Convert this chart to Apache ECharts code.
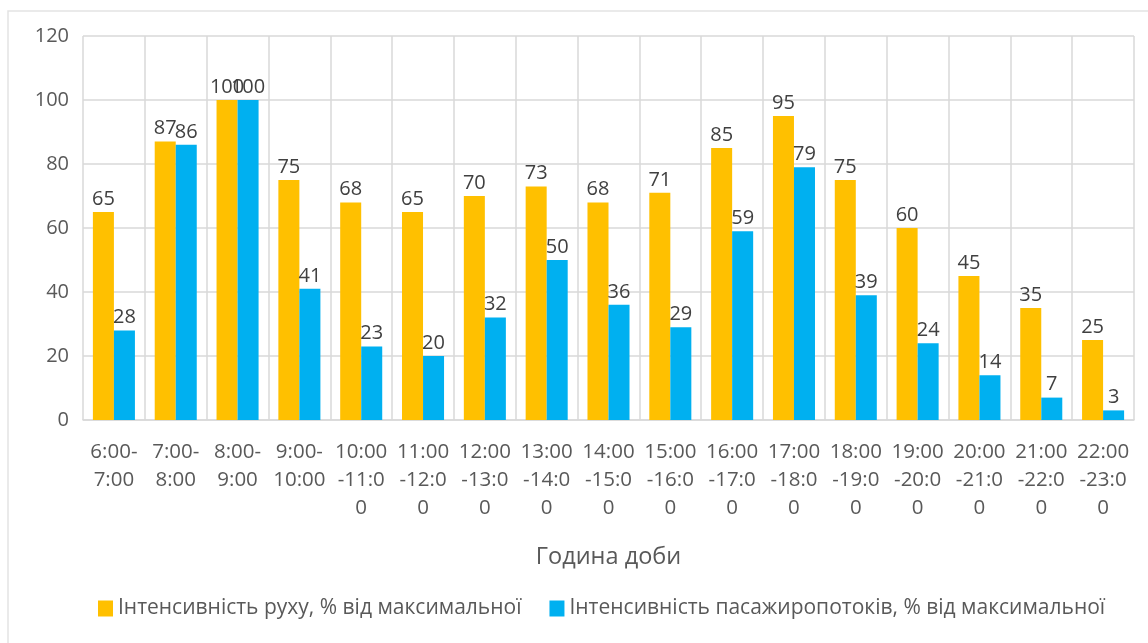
<!DOCTYPE html>
<html>
<head>
<meta charset="utf-8">
<script src="https://cdn.jsdelivr.net/npm/echarts@6/dist/echarts.min.js"></script>
<style>
  html, body { margin: 0; padding: 0; background: #fff; }
  #chart { width: 1148px; height: 643px; }
</style>
</head>
<body>
<div id="chart"></div>
<script>
// Hour-of-day intervals (line breaks as shown under the axis)
const categories = [
  '6:00-\n7:00', '7:00-\n8:00', '8:00-\n9:00', '9:00-\n10:00',
  '10:00\n-11:0\n0', '11:00\n-12:0\n0', '12:00\n-13:0\n0', '13:00\n-14:0\n0',
  '14:00\n-15:0\n0', '15:00\n-16:0\n0', '16:00\n-17:0\n0', '17:00\n-18:0\n0',
  '18:00\n-19:0\n0', '19:00\n-20:0\n0', '20:00\n-21:0\n0', '21:00\n-22:0\n0',
  '22:00\n-23:0\n0'
];
const seriesNames = [
  'Інтенсивність руху, % від максимальної',
  'Інтенсивність пасажиропотоків, % від максимальної'
];
const trafficIntensity = [65, 87, 100, 75, 68, 65, 70, 73, 68, 71, 85, 95, 75, 60, 45, 35, 25];
const passengerFlow = [28, 86, 100, 41, 23, 20, 32, 50, 36, 29, 59, 79, 39, 24, 14, 7, 3];
const yTicks = { min: 0, max: 120, step: 20 };
const axisTitle = 'Година доби';

const FONT = '"Open Sans", "Noto Sans", sans-serif';
const gridColor = '#D9D9D9';
const textColor = '#595959';

const chart = echarts.init(document.getElementById('chart'), null, { renderer: 'canvas' });

const labelStyle = {
  show: true,
  position: 'top',
  distance: 3,
  color: '#404040',
  fontFamily: FONT,
  fontSize: 20
};

chart.setOption({
  animation: false,
  backgroundColor: '#ffffff',
  graphic: [{
    type: 'rect',
    shape: { x: 8, y: 11, width: 1200, height: 700 },
    style: { fill: 'none', stroke: '#E3E3E3', lineWidth: 1.5 },
    silent: true
  }],
  grid: { left: 83, right: 14, top: 36, bottom: 223 },
  legend: {
    data: seriesNames,
    bottom: 19,
    left: 93,
    icon: 'rect',
    itemWidth: 15,
    itemHeight: 16,
    itemGap: 28,
    textStyle: { color: textColor, fontFamily: FONT, fontSize: 21 }
  },
  xAxis: {
    type: 'category',
    data: categories,
    name: axisTitle,
    nameLocation: 'middle',
    nameGap: 125,
    nameTextStyle: { color: textColor, fontFamily: FONT, fontSize: 23.5 },
    axisLine: { lineStyle: { color: gridColor, width: 1.5 } },
    axisTick: { show: false },
    axisLabel: {
      interval: 0,
      color: textColor,
      fontFamily: FONT,
      fontSize: 20.5,
      lineHeight: 28,
      margin: 18
    },
    splitLine: { show: true, lineStyle: { color: gridColor, width: 1.5 } }
  },
  yAxis: {
    type: 'value',
    min: yTicks.min,
    max: yTicks.max,
    interval: yTicks.step,
    axisLine: { show: false },
    axisTick: { show: false },
    axisLabel: { color: textColor, fontFamily: FONT, fontSize: 20, margin: 14 },
    splitLine: { lineStyle: { color: gridColor, width: 1.5 } }
  },
  series: [
    {
      name: seriesNames[0],
      type: 'bar',
      data: trafficIntensity,
      itemStyle: { color: '#FFC000' },
      barGap: '0%',
      barCategoryGap: '32%',
      label: labelStyle
    },
    {
      name: seriesNames[1],
      type: 'bar',
      data: passengerFlow,
      itemStyle: { color: '#00B0F0' },
      label: labelStyle
    }
  ]
});
</script>
</body>
</html>
